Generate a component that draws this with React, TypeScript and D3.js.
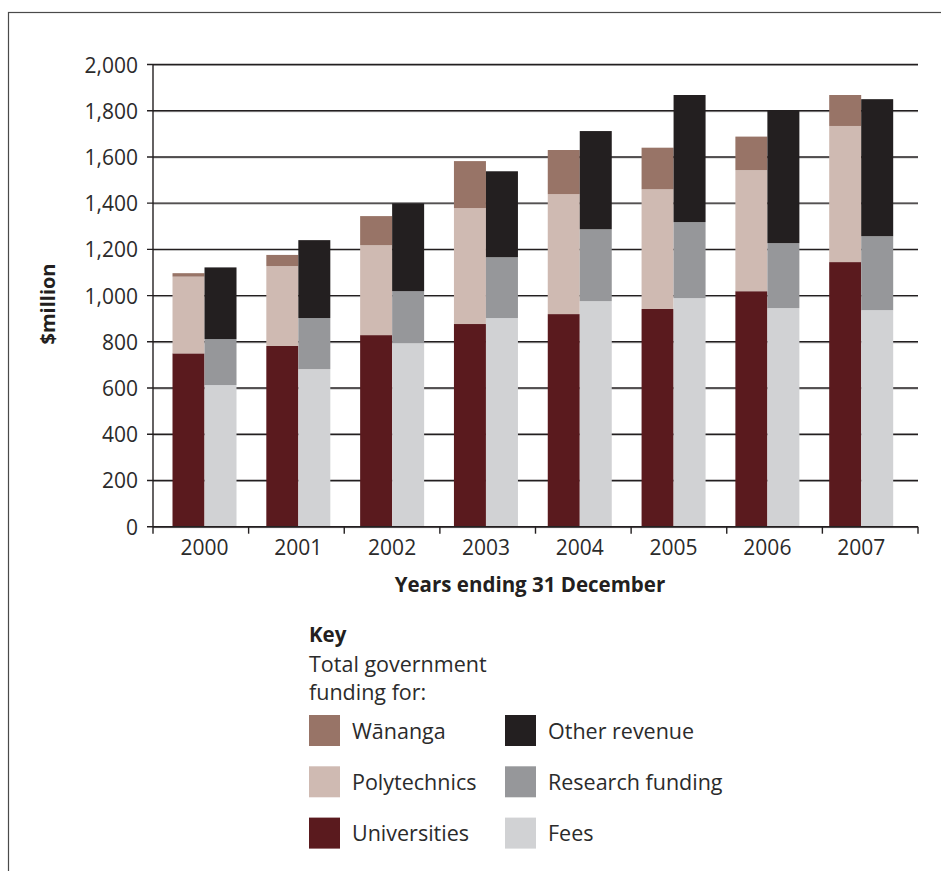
import * as d3 from 'd3';

const years = ['2000', '2001', '2002', '2003', '2004', '2005', '2006', '2007'];

// government funding stack (left bar)
const universities = [750, 782, 829, 877, 920, 942, 1019, 1145];
const polytechnics = [332, 346, 389, 502, 519, 518, 524, 589];
const wananga = [15, 48, 126, 203, 191, 180, 145, 134];

// revenue stack (right bar)
const fees = [613, 682, 794, 903, 976, 989, 946, 937];
const research = [199, 221, 225, 263, 311, 329, 281, 320];
const other = [310, 337, 380, 372, 425, 550, 576, 593];

const yTicks = [0, 200, 400, 600, 800, 1000, 1200, 1400, 1600, 1800, 2000];

const colors: Record<string, string> = {
  universities: '#5a1a1e',
  polytechnics: '#cfbab2',
  wananga: '#987467',
  fees: '#d1d2d4',
  research: '#96979a',
  other: '#231f20',
};

const legendLeft = [
  { key: 'wananga', label: 'Wānanga' },
  { key: 'polytechnics', label: 'Polytechnics' },
  { key: 'universities', label: 'Universities' },
];
const legendRight = [
  { key: 'other', label: 'Other revenue' },
  { key: 'research', label: 'Research funding' },
  { key: 'fees', label: 'Fees' },
];

const W = 941;
const H = 871;
const font = '"Open Sans", "Noto Sans", sans-serif';
const textColor = '#2b2b2b';

export default function App() {
  const y = d3.scaleLinear().domain([0, 2000]).range([526.7, 64.5]);
  const x = d3.scaleBand<string>().domain(years).range([157.6, 908.1]);
  const tickX = d3.scaleLinear().domain([0, years.length]).range([153, 918]);
  const pairW = 64;
  const sub = d3.scaleBand<string>().domain(['gov', 'rev']).range([0, pairW]);

  const rows = years.map((yr, i) => ({
    year: yr,
    universities: universities[i],
    polytechnics: polytechnics[i],
    wananga: wananga[i],
    fees: fees[i],
    research: research[i],
    other: other[i],
  }));

  const govStack = d3.stack<any>().keys(['universities', 'polytechnics', 'wananga'])(rows);
  const revStack = d3.stack<any>().keys(['fees', 'research', 'other'])(rows);

  const barX = (yr: string, grp: string) =>
    (x(yr) as number) + (x.bandwidth() - pairW) / 2 + (sub(grp) as number);

  return (
    <div style={{ position: 'absolute', left: 0, top: 0 }}>
      <svg width={W} height={H} style={{ display: 'block', fontFamily: font }}>
        <rect x={0} y={0} width={W} height={H} fill="#fff" />
        {/* frame */}
        <rect x={8.5} y={12.5} width={1200} height={1200} fill="none" stroke="#4a4a4a" strokeWidth={1.2} />

        {/* gridlines */}
        {yTicks.map(t => (
          <g key={t}>
            <line x1={153} x2={918} y1={y(t) + 1} y2={y(t) + 1} stroke="#b8b8b8" strokeWidth={1} />
            <line x1={147} x2={918} y1={y(t)} y2={y(t)} stroke="#231f20" strokeWidth={1.4} />
            <text x={138} y={y(t) + 8} textAnchor="end" fontSize={21} fill={textColor}>
              {d3.format(',')(t)}
            </text>
          </g>
        ))}

        {/* bars */}
        {govStack.map(s => (
          <g key={s.key} fill={colors[s.key]}>
            {s.map((d, i) => (
              <rect key={i} x={barX(years[i], 'gov')} width={sub.bandwidth()} y={y(d[1])} height={y(d[0]) - y(d[1])} />
            ))}
          </g>
        ))}
        {revStack.map(s => (
          <g key={s.key} fill={colors[s.key]}>
            {s.map((d, i) => (
              <rect key={i} x={barX(years[i], 'rev')} width={sub.bandwidth()} y={y(d[1])} height={y(d[0]) - y(d[1])} />
            ))}
          </g>
        ))}

        {/* axes */}
        <line x1={153} x2={153} y1={y(2000)} y2={y(0)} stroke="#231f20" strokeWidth={1.4} />
        <line x1={153} x2={918} y1={y(0)} y2={y(0)} stroke="#231f20" strokeWidth={1.4} />
        {d3.range(years.length + 1).map(i => (
          <line key={i} x1={tickX(i)} x2={tickX(i)} y1={y(0)} y2={y(0) + 7} stroke="#231f20" strokeWidth={1.4} />
        ))}
        {years.map(yr => (
          <text key={yr} x={(x(yr) as number) + x.bandwidth() / 2} y={555} textAnchor="middle" fontSize={21} fill={textColor}>
            {yr}
          </text>
        ))}

        <text x={530} y={592} textAnchor="middle" fontSize={20.5} fontWeight="bold" fill="#231f20">
          Years ending 31 December
        </text>
        <text transform="translate(55,304) rotate(-90)" textAnchor="middle" fontSize={20} fontWeight="bold" fill="#231f20">
          $million
        </text>

        {/* key */}
        <text x={309} y={642} fontSize={20.5} fontWeight="bold" fill="#231f20">Key</text>
        <text x={309} y={672} fontSize={21.5} fill={textColor}>Total government</text>
        <text x={309} y={700} fontSize={21.5} fill={textColor}>funding for:</text>
        {legendLeft.map((l, i) => (
          <g key={l.key} transform={`translate(309,${715 + i * 51.3})`}>
            <rect width={31} height={31} fill={colors[l.key]} />
            <text x={43} y={23.5} fontSize={21.5} fill={textColor}>{l.label}</text>
          </g>
        ))}
        {legendRight.map((l, i) => (
          <g key={l.key} transform={`translate(505,${715 + i * 51.3})`}>
            <rect width={31} height={31} fill={colors[l.key]} />
            <text x={43} y={23.5} fontSize={21.5} fill={textColor}>{l.label}</text>
          </g>
        ))}
      </svg>
    </div>
  );
}
